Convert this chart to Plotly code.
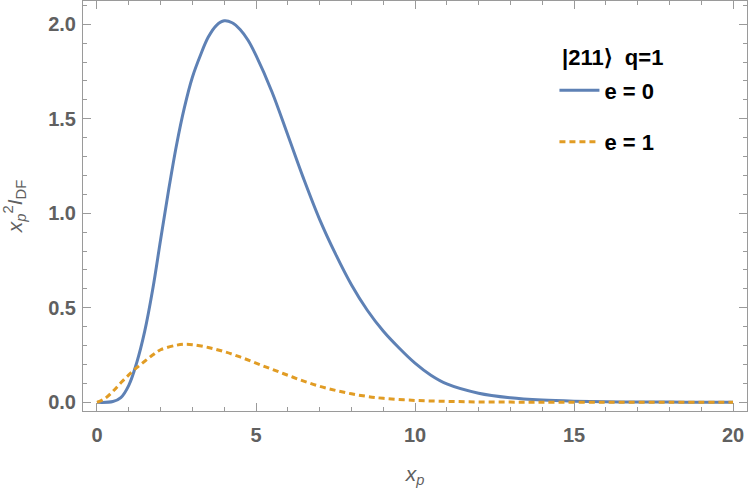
import plotly.graph_objects as go

# e = 0 curve
x_e0 = [0, 0.5, 0.75, 1.0, 1.25, 1.5, 1.75, 2.0, 2.25, 2.5, 2.75, 3.0, 3.25, 3.5, 3.75, 4.0,
        4.25, 4.5, 4.75, 5.0, 5.5, 6.0, 6.5, 7.0, 7.5, 8.0, 8.5, 9.0, 9.5, 10.0, 10.5, 11.0,
        12.0, 13.0, 14.0, 15.0, 16.0, 17.0, 18.0, 19.0, 20.0]
y_e0 = [0, 0.004, 0.025, 0.09, 0.21, 0.375, 0.595, 0.86, 1.12, 1.36, 1.56, 1.72, 1.835,
        1.932, 1.993, 2.018, 2.008, 1.972, 1.915, 1.835, 1.643, 1.414, 1.182, 0.968, 0.785,
        0.622, 0.487, 0.377, 0.287, 0.207, 0.143, 0.097, 0.048, 0.024, 0.012, 0.006, 0.003,
        0.0015, 0.001, 0.0005, 0.0]

# e = 1 curve
x_e1 = [0, 0.25, 0.5, 0.75, 1.0, 1.25, 1.5, 1.75, 2.0, 2.5, 2.75, 3.0, 3.5, 4.0, 4.5, 5.0,
        5.5, 6.0, 6.5, 7.0, 7.5, 8.0, 8.5, 9.0, 10.0, 11.0, 12.0, 13.0, 14.0, 16.0, 18.0, 20.0]
y_e1 = [0, 0.02, 0.058, 0.103, 0.145, 0.183, 0.217, 0.25, 0.278, 0.302, 0.307, 0.305,
        0.29, 0.268, 0.24, 0.207, 0.175, 0.143, 0.112, 0.085, 0.063, 0.045, 0.031, 0.021,
        0.01, 0.005, 0.002, 0.001, 0.0005, 0, 0, 0]

legend_title = "|211\u27e9  q=1"
names = ["e = 0", "e = 1"]

BLUE = "#5E81B5"
ORANGE = "#E19C24"
GRAY = "#606060"
FRAME = "#9a9a9a"
TICKFONT = "Liberation Sans, Arial"

fig = go.Figure()
fig.add_trace(go.Scatter(x=x_e0, y=y_e0, mode="lines", name=names[0], legendgroup="a",
                         line=dict(color=BLUE, width=3, shape="spline", smoothing=1.0)))
fig.add_trace(go.Scatter(x=x_e1, y=y_e1, mode="lines", name=names[1], legendgroup="b",
                         line=dict(color=ORANGE, width=3, dash="6px,4px", shape="spline",
                                   smoothing=1.0)))

axis_common = dict(
    showgrid=False, zeroline=False, showline=True, linecolor=FRAME, linewidth=1,
    mirror="allticks", ticks="inside", ticklen=8, tickcolor=FRAME, tickwidth=1,
    tickfont=dict(family=TICKFONT, size=20, color=GRAY, weight="bold"),
)

fig.update_xaxes(range=[-0.44, 20.44], dtick=5, tick0=0, ticklabelstandoff=6,
                 minor=dict(dtick=1, ticks="inside", ticklen=4, tickcolor=FRAME),
                 title=dict(text="<i>x<sub>p</sub></i>", standoff=22,
                            font=dict(family="Liberation Sans", size=21, color=GRAY)),
                 **axis_common)
fig.update_yaxes(range=[-0.046, 2.123], dtick=0.5, tick0=0, tickformat=".1f",
                 ticklabelstandoff=2,
                 minor=dict(dtick=0.1, ticks="inside", ticklen=4, tickcolor=FRAME),
                 title=dict(text="<i>x</i><sub><i>p</i></sub><sup>2</sup><i>I</i><sub>DF</sub>",
                            standoff=20,
                            font=dict(family="Liberation Sans", size=21, color=GRAY)),
                 **axis_common)

fig.add_annotation(text="<b>" + legend_title + "</b>", xref="paper", yref="paper",
                   x=0.798, y=0.863, xanchor="center", yanchor="middle", showarrow=False,
                   font=dict(family="Liberation Sans", size=22, color="black"))

fig.update_layout(
    width=750, height=488,
    margin=dict(l=83, r=3, t=1, b=77),
    paper_bgcolor="white", plot_bgcolor="white",
    legend=dict(
        x=0.71, y=0.833, xanchor="left", yanchor="top", itemwidth=40,
        font=dict(family="Liberation Sans", size=22, color="black", weight="bold"),
        tracegroupgap=20, bgcolor="rgba(0,0,0,0)",
    ),
)

fig.write_html("out.html")
